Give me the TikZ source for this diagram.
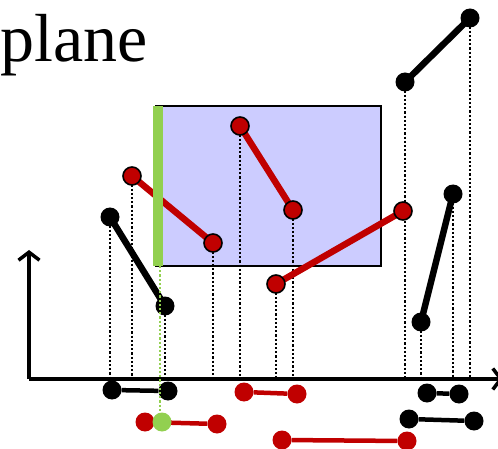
\documentclass[tikz,border=0pt]{standalone}
\usepackage{fontspec}
\setmainfont{Liberation Serif}
\usetikzlibrary{arrows.meta}
\definecolor{segred}{HTML}{C00000}
\definecolor{bargreen}{HTML}{92D050}
\definecolor{boxblue}{HTML}{CCCCFF}
\tikzset{
  seg/.style={line width=6.5pt},
  proj/.style={line width=4.5pt},
  drop/.style={line width=2.2pt, dash pattern=on 2.2pt off 2pt},
  bdot/.style={circle, fill=black, inner sep=0pt, minimum size=19pt},
  rdot/.style={circle, fill=segred, draw=black, line width=1.6pt, inner sep=0pt, minimum size=18pt},
  rpdot/.style={circle, fill=segred, inner sep=0pt, minimum size=19pt},
  gdot/.style={circle, fill=bargreen, inner sep=0pt, minimum size=19pt},
  axis/.style={line width=4.5pt, -{Straight Barb[length=8pt,width=21pt,line width=3.5pt]}},
}
\begin{document}
\begin{tikzpicture}[x=1pt,y=-1pt]
\useasboundingbox (0,0) rectangle (498,449);
% title
\node[anchor=base west, inner sep=0pt, font=\fontsize{68}{68}\selectfont] (title) at (0,62) {plane};
% box
\draw[fill=boxblue, line width=2.2pt] (156,106) rectangle (381,266);
% axes
\coordinate (O) at (29,379);
\coordinate (xend) at (503,379);
\coordinate (yend) at (29,250);
\draw[axis] (O) -- (xend);
\draw[axis] (O) -- (yend);
% coordinates of segment endpoints
\coordinate (a1) at (110,217); \coordinate (a2) at (165,306);
\coordinate (b1) at (132,176); \coordinate (b2) at (213,243);
\coordinate (c1) at (240,126); \coordinate (c2) at (293,210);
\coordinate (d1) at (276,284); \coordinate (d2) at (403,211);
\coordinate (e1) at (405,82);  \coordinate (e2) at (470,18);
\coordinate (f1) at (421,322); \coordinate (f2) at (453,194);
% dotted drops (the drop from e1 also serves d2)
\foreach \p in {a1,a2,b1,b2,c1,c2,d1,e1,e2,f1,f2}{
  \draw[drop] (\p) -- (\p |- O);
}
% segments
\draw[seg, segred] (b1) -- (b2);
\draw[seg, segred] (c1) -- (c2);
\draw[seg, segred] (d1) -- (d2);
\draw[seg] (a1) -- (a2);
\draw[seg] (e1) -- (e2);
\draw[seg] (f1) -- (f2);
% green sweep bar
\fill[bargreen] (153,106) rectangle (162.5,266);
% endpoints
\foreach \p in {a1,a2,e1,e2,f1,f2}{ \node[bdot] at (\p) {}; }
\foreach \p in {b1,b2,c1,c2,d1,d2}{ \node[rdot] at (\p) {}; }
% projected intervals
\node[bdot] (pa1) at (112,390) {}; \node[bdot] (pa2) at (168,391) {};
\draw[proj] (pa1) -- (pa2);
\node[rpdot] (pb1) at (145,422) {}; \node[rpdot] (pb2) at (217,424) {};
\draw[proj, segred] (pb1) -- (pb2);
\node[rpdot] (pc1) at (244,392) {}; \node[rpdot] (pc2) at (297,394) {};
\draw[proj, segred] (pc1) -- (pc2);
\node[rpdot] (pd1) at (282,440) {}; \node[rpdot] (pd2) at (407,441) {};
\draw[proj, segred] (pd1) -- (pd2);
\node[bdot] (pe1) at (409,419) {}; \node[bdot] (pe2) at (474,421) {};
\draw[proj] (pe1) -- (pe2);
\node[bdot] (pf1) at (427,393) {}; \node[bdot] (pf2) at (459,394) {};
\draw[proj] (pf1) -- (pf2);
% green sweep point
\coordinate (gtop) at (160,266);
\node[gdot] (g) at (162,422) {};
\draw[drop, bargreen] (gtop) -- (gtop |- g.north);
\end{tikzpicture}
\end{document}
